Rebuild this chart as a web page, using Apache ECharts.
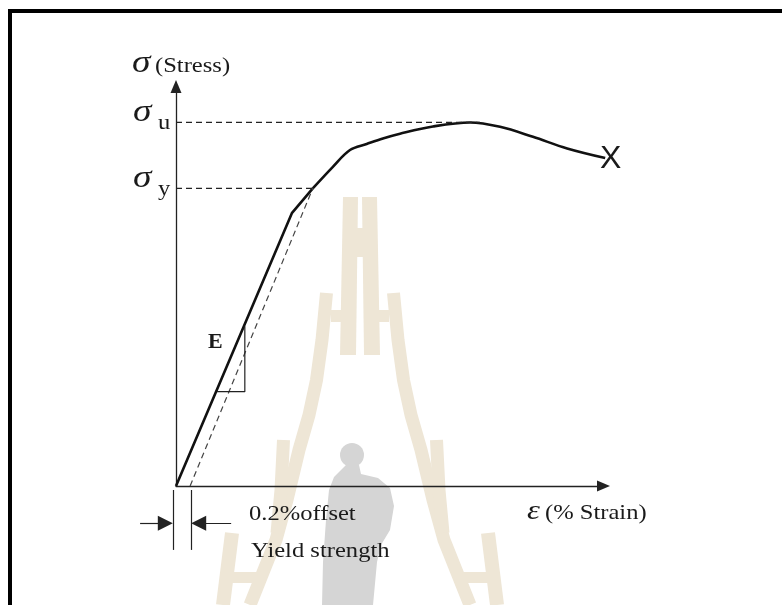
<!DOCTYPE html>
<html>
<head>
  <meta charset="UTF-8">
  <title>Stress-strain curve</title>
  <script src="https://cdn.jsdelivr.net/npm/echarts@6/dist/echarts.min.js"></script>
</head>
<body style="margin:0;background:#fff">
<div id="container" style="width:782px;height:605px"></div>
<script type="text/javascript">
  // values (strain and stress in arbitrary units, 0..100)
  var elasticStrain = [0, 27.1, 32.0];
  var elasticStress = [0, 68.3, 74.5];
  var plasticStrain = [32.0, 36.7, 40.7, 44.6, 48.4, 52.4, 60.1, 68.8, 75.8, 83.5, 91.5, 100.4];
  var plasticStress = [74.5, 79.9, 84.1, 85.6, 87.0, 88.2, 90.0, 91.0, 89.9, 87.4, 84.5, 82.1];
  var offsetStrain = [3.3, 32.0];
  var offsetStress = [0, 74.5];
  var ultimateStrain = [0, 71.1];
  var ultimateStress = [91.0, 91.0];
  var yieldStrain = [0, 32.0];
  var yieldStress = [74.5, 74.5];
  var slopeStrain = [9.6, 16.1, 16.1];
  var slopeStress = [23.6, 23.6, 40.0];
  // 0.2% offset marker below the axis
  var markerX = [-0.7, 3.5];
  var markerY = [-1.0, -16.0];
  var arrowFromX = [-8.4, 12.9];
  var arrowToX = [-2.5, 5.3];
  var arrowY = -9.3;

  function pairs(xs, ys) {
    return xs.map(function (x, i) { return [x, ys[i]]; });
  }

  function lineSeries(xs, ys, width, color, type, smooth) {
    return {
      type: 'line',
      data: pairs(xs, ys),
      symbol: 'none',
      smooth: smooth || false,
      clip: false,
      silent: true,
      animation: false,
      lineStyle: { width: width, color: color, type: type || 'solid' }
    };
  }

  // 'lines' series is not clipped to the grid at all, the marker sits left of the y axis
  var markerLines = {
    type: 'lines',
    coordinateSystem: 'cartesian2d',
    clip: false,
    silent: true,
    animation: false,
    symbol: 'none',
    lineStyle: { color: '#222', width: 1.2, opacity: 1 },
    data: markerX.map(function (x) {
      return { coords: [[x, markerY[0]], [x, markerY[1]]] };
    })
  };
  var markerArrows = {
    type: 'lines',
    coordinateSystem: 'cartesian2d',
    clip: false,
    silent: true,
    animation: false,
    symbol: ['none', 'triangle'],
    symbolSize: [12, 15],
    lineStyle: { color: '#222', width: 1.2, opacity: 1 },
    data: arrowFromX.map(function (x, i) {
      return { coords: [[x, arrowY], [arrowToX[i], arrowY]] };
    })
  };

  var serif = '"Liberation Serif", "DejaVu Serif", serif';
  var ink = '#1a1a1a';

  function label(text, x, y, size, extra) {
    extra = extra || {};
    return {
      type: 'text',
      x: x,
      y: y,
      z: 100,
      scaleX: extra.scaleX == null ? 1.17 : extra.scaleX,
      style: {
        text: text,
        fontSize: size,
        fontFamily: extra.family || serif,
        fontStyle: extra.italic ? 'italic' : 'normal',
        fontWeight: extra.bold ? 'bold' : 'normal',
        fill: ink,
        align: 'left',
        verticalAlign: 'middle',
        textAlign: 'left',
        textVerticalAlign: 'middle'
      }
    };
  }

  // faint watermark in the background of the original figure
  var tan = '#EEE6D6';
  var grey = '#D5D5D5';
  function mirror(pts) {
    return pts.map(function (p) { return [720 - p[0], p[1]]; });
  }
  function bar(pts, w) {
    return { type: 'polyline', z: -10, shape: { points: pts }, style: { stroke: tan, lineWidth: w, fill: null } };
  }
  function block(pts, color) {
    return { type: 'polygon', z: color ? -9 : -10, shape: { points: pts }, style: { fill: color || tan } };
  }
  var legL = [[326.5, 293], [322, 340], [316.5, 380], [309, 415], [299, 450], [287, 500], [276, 540], [250, 605]];
  var tier3L = [[283.5, 440], [281, 490], [277, 533]];
  var tier4L = [[232, 533], [223, 605]];
  var centerL = [[343, 197], [358, 197], [356, 355], [340, 355]];
  var rung2L = [[331, 310], [342, 310], [342, 322], [331, 322]];
  var rung3L = [[282, 468], [297, 468], [297, 479], [282, 479]];
  var rung4L = [[228, 572], [266, 572], [266, 583], [228, 583]];
  var watermark = [
    bar(legL, 13), bar(mirror(legL), 13),
    bar(tier3L, 13), bar(mirror(tier3L), 13),
    bar(tier4L, 14), bar(mirror(tier4L), 14),
    block(centerL), block(mirror(centerL)),
    block([[355, 228], [365, 228], [365, 257], [355, 257]]),
    block(rung2L), block(mirror(rung2L)),
    block(rung3L), block(mirror(rung3L)),
    block(rung4L), block(mirror(rung4L)),
    { type: 'circle', z: -9, shape: { cx: 352, cy: 455, r: 12 }, style: { fill: grey } },
    block([[346, 465], [359, 465], [361, 474], [378, 478], [390, 488], [394, 506], [390, 530],
      [381, 545], [377, 562], [373, 605], [322, 605], [323, 562], [326, 520], [329, 490], [334, 477]], grey)
  ];

  var texts = [
    label('σ', 132, 63.5, 32, { italic: true }),
    label('(Stress)', 155, 66.1, 21),
    label('σ', 133, 112.5, 32, { italic: true }),
    label('u', 158, 123.8, 21),
    label('σ', 133, 179, 32, { italic: true }),
    label('y', 158, 189.8, 21),
    label('ε', 527, 511.5, 28, { italic: true }),
    label('(% Strain)', 545, 513.1, 21),
    label('0.2%offset', 249, 514.8, 21),
    label('Yield strength', 251, 551.4, 21),
    label('E', 208, 342.7, 22, { bold: true, scaleX: 1 }),
    label('X', 600, 159, 32, { family: '"Liberation Sans", Arial, sans-serif', scaleX: 1 })
  ];

  var frame = [
    { type: 'rect', z: 100, shape: { x: 8, y: 9, width: 774, height: 4 }, style: { fill: '#000' } },
    { type: 'rect', z: 100, shape: { x: 8, y: 9, width: 4, height: 596 }, style: { fill: '#000' } }
  ];

  var dom = document.getElementById('container');
  var myChart = echarts.init(dom, null, { renderer: 'canvas' });

  var axisCommon = {
    type: 'value',
    min: 0,
    max: 100,
    axisLine: {
      show: true,
      symbol: ['none', 'triangle'],
      symbolSize: [11, 13],
      lineStyle: { color: '#222', width: 1.3 }
    },
    axisTick: { show: false },
    axisLabel: { show: false },
    splitLine: { show: false }
  };

  var option = {
    backgroundColor: '#fff',
    animation: false,
    grid: { left: 176, right: 178.5, top: 86.5, bottom: 119 },
    xAxis: axisCommon,
    yAxis: axisCommon,
    graphic: watermark.concat(texts, frame),
    series: [
      lineSeries(elasticStrain, elasticStress, 2.6, '#111'),
      lineSeries(plasticStrain, plasticStress, 2.6, '#111', 'solid', 0.35),
      lineSeries(offsetStrain, offsetStress, 1.2, '#444', [6, 4]),
      lineSeries(ultimateStrain, ultimateStress, 1.2, '#222', [6, 4]),
      lineSeries(yieldStrain, yieldStress, 1.2, '#222', [6, 4]),
      lineSeries(slopeStrain, slopeStress, 1.2, '#222'),
      markerLines,
      markerArrows
    ]
  };
  myChart.setOption(option);

  window.addEventListener('resize', myChart.resize);
</script>
</body>
</html>
